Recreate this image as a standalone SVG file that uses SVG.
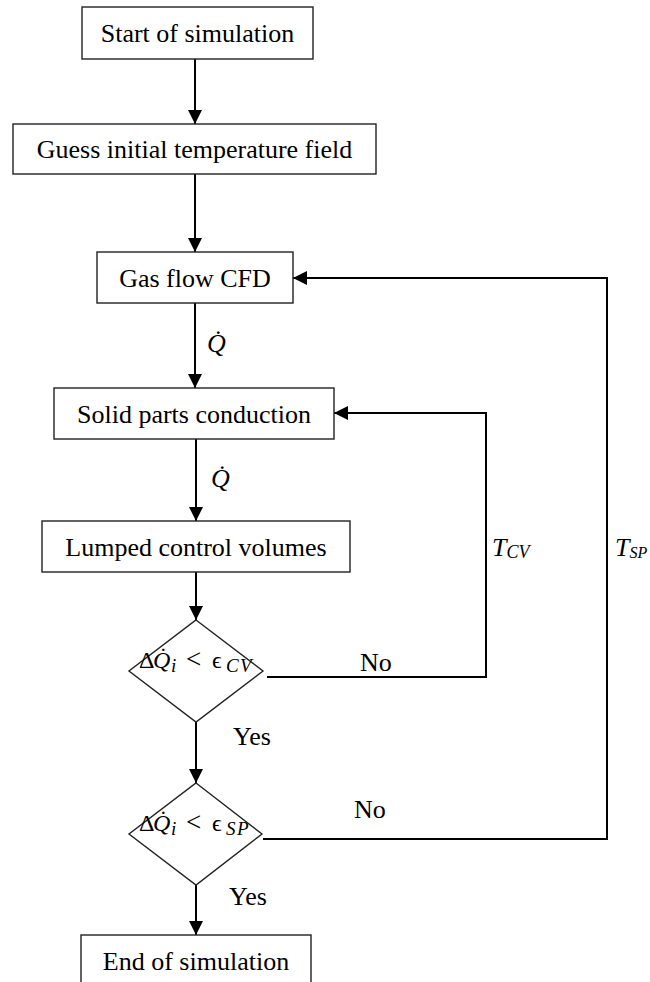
<svg xmlns="http://www.w3.org/2000/svg" width="650" height="982" viewBox="0 0 650 982">
<style>
.box{fill:#fff;stroke:#222;stroke-width:1.4}
.t{font-family:"Liberation Serif","Times New Roman",serif;font-size:26px;fill:#000}
.c{fill:none;stroke:#000;stroke-width:2}
.m{font-family:"Liberation Serif","DejaVu Serif",serif;font-size:24px;fill:#000}
.s{font-size:19px;font-style:italic}
.i{font-style:italic}
</style>
<defs>
<marker id="ah" markerWidth="14" markerHeight="14" viewBox="0 0 14 14" refX="14" refY="7" orient="auto" markerUnits="userSpaceOnUse">
<path d="M0,0 L14,7 L0,14 Z" fill="#000"/>
</marker>
</defs>
<rect width="650" height="982" fill="#fff"/>
<g id="connectors">
<line class="c" x1="195" y1="59" x2="195" y2="124" marker-end="url(#ah)"/>
<line class="c" x1="195" y1="174" x2="195" y2="252" marker-end="url(#ah)"/>
<line class="c" x1="195" y1="303" x2="195" y2="388" marker-end="url(#ah)"/>
<line class="c" x1="196" y1="439" x2="196" y2="521" marker-end="url(#ah)"/>
<line class="c" x1="196" y1="572" x2="196" y2="620" marker-end="url(#ah)"/>
<line class="c" x1="196" y1="722" x2="196" y2="783" marker-end="url(#ah)"/>
<line class="c" x1="196" y1="885" x2="196" y2="935" marker-end="url(#ah)"/>
<polyline class="c" points="267,677 486,677 486,413 334,413" marker-end="url(#ah)"/>
<polyline class="c" points="263,839 607,839 607,278 293,278" marker-end="url(#ah)"/>
<text class="t i" x="207" y="352">Q̇</text>
<text class="t i" x="211" y="487">Q̇</text>
<text class="t" x="360" y="671">No</text>
<text class="t" x="354" y="818">No</text>
<text class="t" x="233" y="745">Yes</text>
<text class="t" x="229" y="905">Yes</text>
<text class="t i" x="492" y="556">T<tspan font-size="18" dy="2">CV</tspan></text>
<text class="t i" x="615" y="556">T<tspan font-size="16" dy="2">SP</tspan></text>
</g>
<g id="start"><rect class="box" x="82" y="7" width="231" height="52"/><text class="t" x="197.5" y="42" text-anchor="middle">Start of simulation</text></g>
<g id="guess"><rect class="box" x="13" y="124" width="363" height="50"/><text class="t" x="194.5" y="158" text-anchor="middle">Guess initial temperature field</text></g>
<g id="gas"><rect class="box" x="97" y="252" width="196" height="51"/><text class="t" x="195" y="287" text-anchor="middle">Gas flow CFD</text></g>
<g id="solid"><rect class="box" x="54" y="388" width="280" height="51"/><text class="t" x="194" y="423" text-anchor="middle">Solid parts conduction</text></g>
<g id="lumped"><rect class="box" x="42" y="521" width="308" height="51"/><text class="t" x="196" y="556" text-anchor="middle">Lumped control volumes</text></g>
<g id="check-cv"><polygon class="box" points="196,620 263,671 196,722 129,671"/><text class="m" y="668"><tspan x="139">Δ</tspan><tspan class="i" x="153">Q̇</tspan><tspan class="s" x="171" dy="4">i</tspan><tspan x="186" dy="-4" font-size="27">&lt;</tspan><tspan x="212">ϵ</tspan><tspan class="s" x="226" dy="4">C</tspan><tspan class="s" x="240">V</tspan></text></g>
<g id="check-sp"><polygon class="box" points="196,783 262,834 196,885 129,834"/><text class="m" y="831"><tspan x="139">Δ</tspan><tspan class="i" x="153">Q̇</tspan><tspan class="s" x="171" dy="4">i</tspan><tspan x="186" dy="-4" font-size="27">&lt;</tspan><tspan x="212">ϵ</tspan><tspan class="s" x="226" dy="4">S</tspan><tspan class="s" x="237">P</tspan></text></g>
<g id="end"><rect class="box" x="81" y="935" width="230" height="60"/><text class="t" x="196" y="970" text-anchor="middle">End of simulation</text></g>
</svg>
